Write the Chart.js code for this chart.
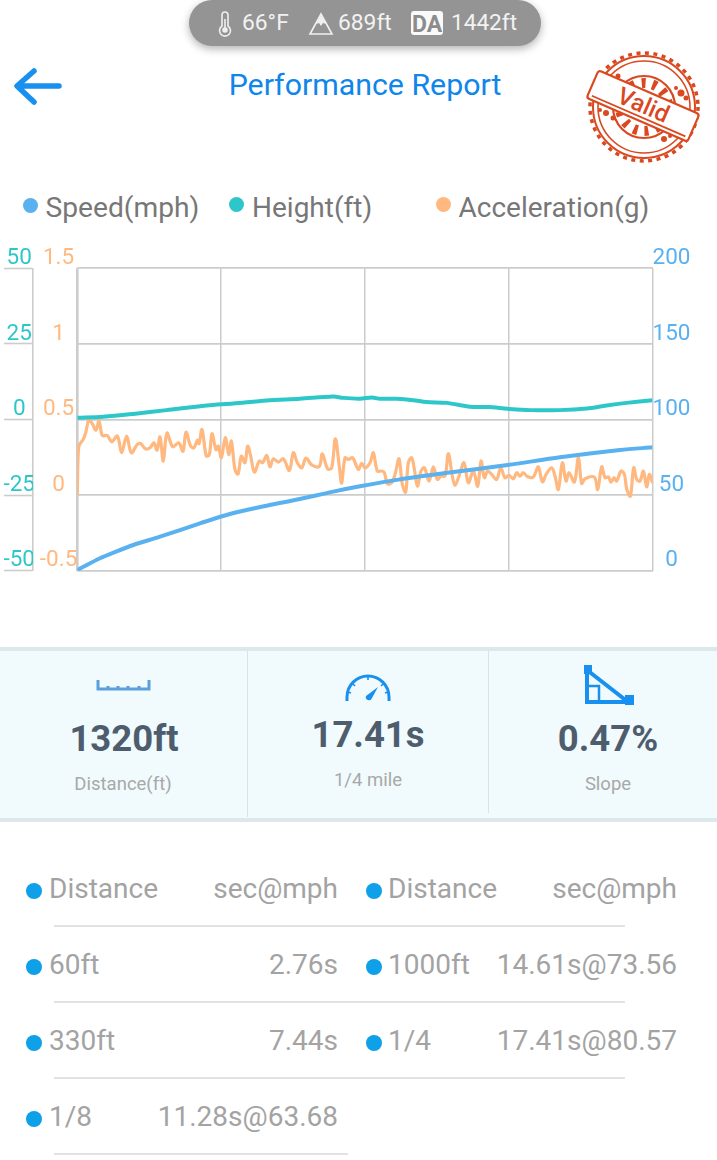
<!DOCTYPE html>
<html><head><meta charset="utf-8">
<script src="https://cdn.jsdelivr.net/npm/chart.js@4"></script>
<style>
html,body{margin:0;padding:0;background:#fff;width:717px;height:1160px;overflow:hidden;font-family:Roboto,sans-serif}
.t{position:absolute;white-space:nowrap;line-height:1;transform:translateY(-50%)}
.c{transform:translate(-50%,-50%)}
.r{transform:translate(-100%,-50%)}
.dot{position:absolute;border-radius:50%}
.ln{position:absolute;height:2px;background:#e2e2e2}
svg{position:absolute;overflow:visible}
#pill{position:absolute;left:189px;top:0;width:352px;height:46px;border-radius:23px;background:#949494;box-shadow:0 3px 8px rgba(0,0,0,.3)}
#panel{position:absolute;left:0;top:647px;width:717px;height:175px;box-sizing:border-box;background:#f1fbfd;border-top:4px solid #dde8ec;border-bottom:4px solid #dde8ec}
canvas{position:absolute;left:0;top:235px}
</style></head><body>
<div id="pill"></div>
<svg style="left:0;top:0" width="717" height="60">
  <g fill="none" stroke="#f0f0f0" stroke-width="1.6">
    <path d="M222 15a3 3 0 0 1 6 0v11a5.5 5.5 0 1 1-6 0z"/>
    <circle cx="225" cy="30" r="2" fill="#f0f0f0"/>
    <path d="M225 19v9"/>
    <path d="M310 34L321 14L332 34z"/>
  </g>
  <path d="M316 24L321 15L326 24L323 23L321 26L319 23z" fill="#f0f0f0"/>
  <rect x="411" y="11" width="32" height="24" rx="3" fill="#fafafa"/>
</svg>
<div class="t" style="left:242px;top:23px;font-size:22.8px;color:#f2f2f2">66°F</div>
<div class="t" style="left:338px;top:23px;font-size:22.8px;color:#f2f2f2">689ft</div>
<div class="t c" style="left:427px;top:24px;font-size:23px;font-weight:700;color:#8c8c8c">DA</div>
<div class="t" style="left:451px;top:23px;font-size:22.6px;color:#f2f2f2">1442ft</div>

<svg style="left:0;top:0" width="100" height="120"><path d="M59 86H18M34 71L17 86L34 102" fill="none" stroke="#1890f0" stroke-width="5.5" stroke-linecap="round" stroke-linejoin="round"/></svg>
<div class="t c" style="left:365px;top:85px;font-size:30.3px;color:#0f86ea">Performance Report</div>

<svg style="left:0;top:0" width="717" height="180">
  <g fill="none" stroke="#d9481f">
    <circle cx="644" cy="107" r="54" stroke-width="3.5" stroke-dasharray="4 4.5"/>
    <circle cx="644" cy="107" r="51" stroke-width="2"/>
    <circle cx="644" cy="107" r="46" stroke-width="1.6"/>
    <circle cx="644" cy="107" r="31" stroke-width="2.2"/>
    <circle cx="644" cy="107" r="24" stroke-width="10" stroke-dasharray="4 7"/>
  </g>
  <g fill="#d9481f">
    <circle cx="681" cy="93" r="3.5"/><circle cx="686" cy="98" r="2.5"/><circle cx="676" cy="88" r="2"/>
    <circle cx="606" cy="113" r="3"/><circle cx="613" cy="118" r="2.5"/><circle cx="600" cy="110" r="2"/>
    <circle cx="664" cy="139" r="3"/><circle cx="670" cy="136" r="2"/><circle cx="618" cy="76" r="2.5"/>
  </g>
  <g transform="rotate(23.5 643 106)">
    <rect x="588" y="91" width="110" height="30" rx="3" fill="#fff" stroke="#d9481f" stroke-width="2.2"/>
    <path d="M592 117H694" stroke="#d9481f" stroke-width="1.8"/>
    <text x="643" y="113" text-anchor="middle" font-family="Roboto" font-weight="500" font-size="24" fill="#d9481f">Valid</text>
  </g>
</svg>

<div class="dot" style="left:23px;top:198px;width:15px;height:15px;background:#5ab1ef"></div>
<div class="t" style="left:45.5px;top:208px;font-size:28.2px;color:#777">Speed(mph)</div>
<div class="dot" style="left:229px;top:197px;width:15px;height:15px;background:#2ec7c9"></div>
<div class="t" style="left:252px;top:208px;font-size:28px;color:#777">Height(ft)</div>
<div class="dot" style="left:436px;top:197px;width:15px;height:15px;background:#ffb980"></div>
<div class="t" style="left:458.5px;top:208px;font-size:28px;color:#777">Acceleration(g)</div>

<canvas id="c" width="717" height="355" style="width:717px;height:355px"></canvas>

<div id="panel"></div>
<div style="position:absolute;left:247px;top:651px;width:1px;height:166px;background:#d5e6ea"></div>
<div style="position:absolute;left:488px;top:651px;width:1px;height:162px;background:#d5e6ea"></div>
<svg style="left:0;top:640px" width="717" height="80">
  <path d="M98 40V49H149V40M108 46V49M118 46V49M128 46V49M139 46V49" fill="none" stroke="#5b9fdc" stroke-width="3"/>
  <g fill="none" stroke="#1890f0">
    <path d="M347 61V57A21 21 0 0 1 389 57V61" stroke-width="3"/>
    <path d="M353 44l2 2M368 37v3M383 44l-2 2M348 52l3 1M388 52l-3 1" stroke-width="1.6"/>
  </g>
  <path d="M378 47L372 58A3 3 0 1 1 366 56z" fill="#1890f0"/>
  <g fill="none" stroke="#1890f0" stroke-width="4">
    <path d="M587 30V62H628L587 30"/>
    <path d="M589 46H599V61" stroke-width="2.5"/>
  </g>
  <rect x="584" y="25" width="8" height="9" fill="#1890f0"/>
  <rect x="625" y="55" width="9" height="10" fill="#1890f0"/>
</svg>
<div class="t c" style="left:124px;top:739px;font-size:36.5px;font-weight:700;color:#4e5d6e">1320ft</div>
<div class="t c" style="left:368px;top:735px;font-size:36.5px;font-weight:700;color:#4e5d6e">17.41s</div>
<div class="t c" style="left:608px;top:739px;font-size:36.5px;font-weight:700;color:#4e5d6e">0.47%</div>
<div class="t c" style="left:123px;top:784px;font-size:18.5px;color:#a8a8a8">Distance(ft)</div>
<div class="t c" style="left:368px;top:780px;font-size:18.5px;color:#a8a8a8">1/4 mile</div>
<div class="t c" style="left:608px;top:784px;font-size:18.5px;color:#a8a8a8">Slope</div>
<div id="tbl"></div>

<script>
const speedX=[0,3.95,6.84,9.74,14.38,21.33,26.54,32.92,38.72,44.51,49.15,56.1,63.64,74.82,83.92,94.35,100];
const speedMph=[0.4,8.2,12.8,17,22.5,31.3,37.5,43,47.4,52.3,55.8,60.4,64.4,69.9,75,79.8,81.6];
const heightX=[0,4.5,9.74,15.5,22.5,27.1,32.9,38.7,44.5,46.2,49.15,51.2,52.6,55.5,58.4,60.7,64.2,68.3,71.5,74.8,78.7,83.9,88.6,92,95.5,100];
const heightFt=[.55,.9,1.85,3.1,4.65,5.3,6.3,6.85,7.6,7.15,6.9,7.3,6.85,6.85,6.4,5.75,5.5,4.2,4.1,3.55,3.1,3.1,3.65,4.65,5.5,6.4];
const accelX=[0,.24,1.05,1.51,2.03,2.67,3.25,3.77,4.35,5.22,5.97,6.96,7.71,8.58,9.39,10.43,11.02,11.83,12.64,13.33,13.86,14.38,14.95,15.59,16.58,17.62,18.37,18.9,19.71,20.29,20.87,21.16,21.68,22.43,22.95,23.42,24.11,24.52,25.04,25.73,26.32,26.78,27.41,27.94,28.52,29.15,29.62,30.14,30.78,31.65,32.23,32.92,33.5,34.08,34.95,35.82,36.86,37.56,38.25,39.01,39.76,40.74,42.07,42.6,43.52,44.22,44.86,45.55,45.96,46.54,47.12,47.87,48.86,49.44,50.02,50.89,51.47,52.16,52.92,53.38,53.9,54.66,55.24,55.93,56.51,57.09,57.55,58.13,58.6,59.12,59.76,60.34,61.15,61.9,62.6,63.23,63.93,64.51,65.2,65.67,66.36,67.23,67.98,68.85,69.61,70.19,70.77,71.35,72.04,72.91,73.61,74.36,75.05,75.81,76.39,76.97,77.55,78.3,79.29,80.15,80.85,81.6,82.47,83.05,83.63,84.33,84.97,85.49,86.41,87.11,87.69,88.27,89.89,90.47,91.17,91.75,92.32,92.79,93.31,93.77,94.53,95.11,95.51,96.15,96.73,97.25,97.83,98.41,98.99,99.45,100];
const accelG=[0,.32,.37,.42,.5,.467,.43,.49,.394,.394,.352,.39,.28,.39,.28,.335,.34,.306,.313,.346,.297,.385,.225,.41,.32,.346,.29,.416,.324,.313,.363,.34,.434,.258,.268,.407,.3,.324,.247,.38,.268,.357,.17,.139,.258,.214,.324,.258,.152,.225,.214,.262,.187,.24,.218,.24,.163,.28,.214,.18,.245,.2,.19,.273,.174,.18,.372,.19,.08,.247,.236,.247,.17,.21,.18,.214,.28,.159,.159,.148,.075,.081,.137,.24,.07,.02,.214,.247,.17,.059,.159,.181,.093,.187,.104,.126,.126,.275,.126,.064,.126,.214,.081,.159,.059,.225,.115,.159,.137,.104,.181,.115,.13,.108,.148,.126,.148,.121,.121,.187,.088,.143,.181,.126,.037,.214,.093,.148,.086,.247,.077,.108,.119,.037,.187,.115,.121,.086,.115,.093,.159,.137,.042,-.007,.181,.104,.093,.159,.055,.137,.081];
const xTicks=[0,25,50,75,100];
const speedTicks=[0,50,100,150,200];
const heightTicks=[-50,-25,0,25,50];
const accelTicks=[-0.5,0,0.5,1,1.5];
const tableLeft=[["Distance","sec@mph"],["60ft","2.76s"],["330ft","7.44s"],["1/8","11.28s@63.68"]];
const tableRight=[["Distance","sec@mph"],["1000ft","14.61s@73.56"],["1/4","17.41s@80.57"]];

const GRID="#cccccc";
const pts=(xs,ys)=>xs.map((x,i)=>({x,y:ys[i]}));
const tickFix=list=>s=>{s.ticks=list.map(v=>({value:v}));};
const plain=v=>String(v);
new Chart(document.getElementById("c"),{
  type:"line",
  data:{datasets:[
    {label:"Speed(mph)",data:pts(speedX,speedMph),yAxisID:"ySpeed",borderColor:"#5ab1ef",backgroundColor:"#5ab1ef",borderWidth:4,pointRadius:0,tension:0.3},
    {label:"Height(ft)",data:pts(heightX,heightFt),yAxisID:"yHeight",borderColor:"#2ec7c9",backgroundColor:"#2ec7c9",borderWidth:4,pointRadius:0,tension:0.3},
    {label:"Acceleration(g)",data:pts(accelX,accelG),yAxisID:"yAccel",borderColor:"#ffb980",backgroundColor:"#ffb980",borderWidth:3.2,pointRadius:0,tension:0.35}
  ]},
  options:{
    responsive:false,animation:false,devicePixelRatio:1,
    layout:{padding:{left:0,right:0,top:33.3,bottom:19.3}},
    plugins:{legend:{display:false},tooltip:{enabled:false}},
    scales:{
      x:{type:"linear",min:0,max:100,afterBuildTicks:tickFix(xTicks),
         ticks:{display:false},border:{display:false},
         grid:{color:GRID,drawTicks:false,lineWidth:c=>c.tick.value===0?2.6:1.5}},
      yHeight:{position:"left",weight:2,min:-50,max:50,afterBuildTicks:tickFix(heightTicks),
         afterFit:s=>{s.width=33;},
         border:{display:true,color:GRID,width:1.6},
         grid:{drawOnChartArea:false,drawTicks:true,tickLength:29,tickColor:GRID,tickWidth:1.6},
         ticks:{color:"#2ec7c9",font:{family:"Roboto",size:22.5},crossAlign:"center",padding:-31,labelOffset:-10,autoSkip:false,maxRotation:0,callback:plain}},
      yAccel:{position:"left",weight:1,min:-0.5,max:1.5,afterBuildTicks:tickFix(accelTicks),
         afterFit:s=>{s.width=44.3;},
         border:{display:false},grid:{display:false},
         ticks:{color:"#ffb980",font:{family:"Roboto",size:22.5},crossAlign:"center",padding:-8,labelOffset:-10,autoSkip:false,maxRotation:0,callback:plain}},
      ySpeed:{position:"right",min:0,max:200,afterBuildTicks:tickFix(speedTicks),
         afterFit:s=>{s.width=64.5;},
         border:{display:false},
         grid:{color:GRID,lineWidth:1.7,drawTicks:false},
         ticks:{color:"#5ab1ef",font:{family:"Roboto",size:22.5},crossAlign:"center",padding:0,labelOffset:-10,autoSkip:false,maxRotation:0,callback:plain}}
    }
  }
});

const tbl=document.getElementById("tbl");
const rowY=[889,965,1041,1117];
function addText(txt,x,y,cls){const d=document.createElement("div");d.className="t "+cls;d.textContent=txt;
  d.style.cssText=`left:${x}px;top:${y}px;font-size:28px;color:#a3a3a3`;tbl.appendChild(d);}
function addRows(rows,dotX,textX,rightX){rows.forEach((r,i)=>{
  const dot=document.createElement("div");dot.className="dot";
  dot.style.cssText=`left:${dotX-8}px;top:${rowY[i]-6}px;width:16px;height:16px;background:#0ea0e8`;tbl.appendChild(dot);
  addText(r[0],textX,rowY[i],"");addText(r[1],rightX,rowY[i],"r");});}
addRows(tableLeft,34,49,338);addRows(tableRight,374,388,677);
[[926,625],[1002,625],[1078,625],[1154,348]].forEach(([y,x2])=>{const l=document.createElement("div");l.className="ln";
  l.style.cssText=`left:54px;top:${y-1}px;width:${x2-54}px`;tbl.appendChild(l);});
</script>
</body></html>
